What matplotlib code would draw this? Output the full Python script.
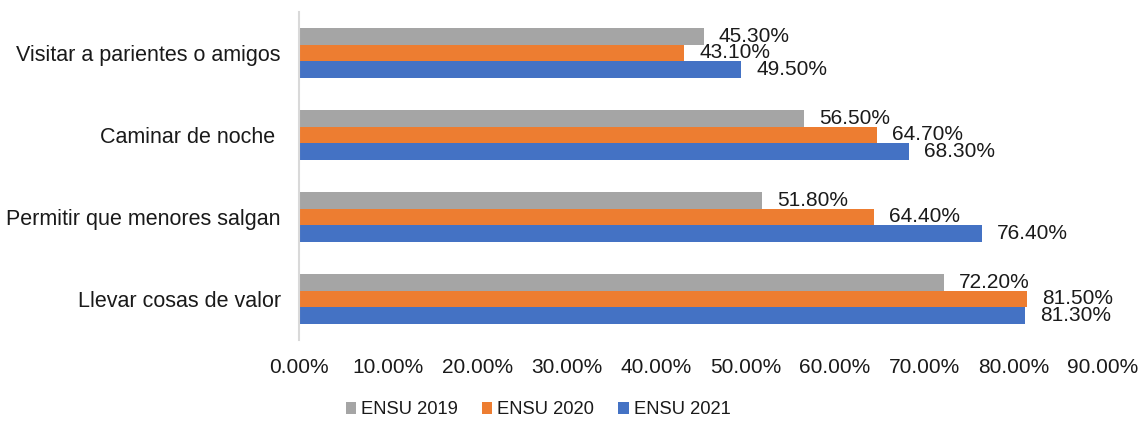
import matplotlib.pyplot as plt
import numpy as np

categories = ["Llevar cosas de valor", "Permitir que menores salgan",
              "Caminar de noche ", "Visitar a parientes o amigos"]
series = ["ENSU 2019", "ENSU 2020", "ENSU 2021"]
ensu_2019 = [72.2, 51.8, 56.5, 45.3]
ensu_2020 = [81.5, 64.4, 64.7, 43.1]
ensu_2021 = [81.3, 76.4, 68.3, 49.5]
colors = ["#A5A5A5", "#ED7D31", "#4472C4"]

plt.rcParams['font.family'] = ['Liberation Sans', 'DejaVu Sans']

fig = plt.figure(figsize=(11.44, 4.21), dpi=100)
ax = fig.add_axes([299/1144, 1-340/421, (1103-299)/1144, (340-12)/421])

y = np.arange(len(categories))
h = 0.207
offsets = [h, 0, -h]
for vals, off, col, name in zip([ensu_2019, ensu_2020, ensu_2021], offsets, colors, series):
    bars = ax.barh(y + off, vals, height=h, color=col, label=name)
    for b, v in zip(bars, vals):
        ax.annotate(f"{v:.2f}%", (v, b.get_y() + b.get_height()/2),
                    xytext=(15, 0), textcoords='offset pixels',
                    va='center', ha='left', fontsize=15, color='#1a1a1a')

ax.set_xlim(0, 90)
ax.set_ylim(-0.5, len(categories) - 0.5)
ax.set_xticks(np.arange(0, 91, 10))
ax.set_xticklabels([f"{t:.2f}%" for t in np.arange(0, 91, 10)])
ax.set_yticks(y)
ax.set_yticklabels(categories)
ax.tick_params(axis='both', length=0, labelsize=15, colors='#1a1a1a')
ax.tick_params(axis='y', labelsize=15.5, pad=13)
ax.tick_params(axis='x', pad=13)
for s in ['top', 'right', 'bottom']:
    ax.spines[s].set_visible(False)
ax.spines['left'].set_color('#D9D9D9')
ax.spines['left'].set_linewidth(1.5)

handles, labels = ax.get_legend_handles_labels()
fig.legend(handles, labels, loc='center', bbox_to_anchor=(538/1144, 1-410/421),
           ncol=3, frameon=False, fontsize=13.2, handlelength=0.55, handleheight=0.55,
           handletextpad=0.28, columnspacing=1.33, labelcolor='#1a1a1a')

fig.savefig("out.png", dpi=100)
